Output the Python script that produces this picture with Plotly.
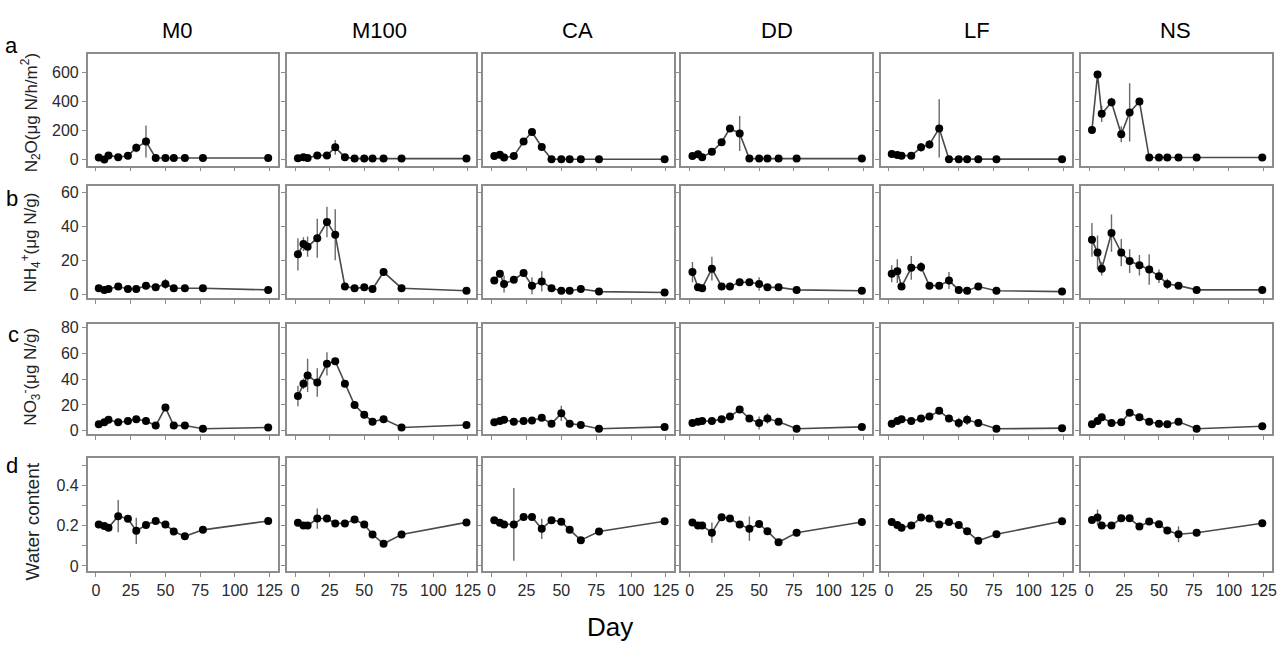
import plotly.graph_objects as go

# Sampling days (days after start)
days = [2, 6, 9, 16, 23, 29, 36, 43, 50, 56, 64, 77, 124]
treatments = ["M0", "M100", "CA", "DD", "LF", "NS"]

# N2O flux (µg N/h/m2): means and error half-widths
n2o_M0 = [15, 2, 30, 18, 28, 82, 125, 12, 12, 12, 12, 12, 12]
n2o_M0_err = [8, 5, 10, 5, 8, 30, 110, 4, 4, 4, 4, 4, 4]
n2o_M100 = [10, 18, 12, 30, 30, 85, 18, 8, 8, 8, 8, 8, 8]
n2o_M100_err = [5, 8, 5, 8, 8, 50, 6, 3, 3, 3, 3, 3, 3]
n2o_CA = [25, 35, 15, 25, 125, 190, 88, 3, 3, 3, 3, 3, 3]
n2o_CA_err = [8, 10, 6, 6, 20, 20, 15, 2, 2, 2, 2, 2, 2]
n2o_DD = [25, 38, 18, 55, 120, 215, 180, 8, 8, 8, 8, 8, 8]
n2o_DD_err = [8, 10, 6, 10, 15, 15, 120, 3, 3, 3, 3, 3, 3]
n2o_LF = [40, 32, 28, 28, 85, 105, 215, 4, 4, 4, 4, 4, 4]
n2o_LF_err = [8, 6, 6, 6, 30, 30, 200, 2, 2, 2, 2, 2, 2]
n2o_NS = [205, 585, 315, 395, 175, 325, 400, 15, 15, 15, 15, 15, 15]
n2o_NS_err = [15, 20, 55, 30, 55, 200, 15, 3, 3, 3, 3, 3, 3]

# NH4+ (µg N/g)
nh4_M0 = [3.5, 2.5, 3, 4.5, 3, 3, 5, 4, 6, 3.5, 3.5, 3.5, 2.5]
nh4_M0_err = [1, 1, 1, 1, 1, 1, 1, 1, 3, 1, 1, 1, 1]
nh4_M100 = [23.5, 29.5, 28, 33, 42.5, 35, 4.5, 3.5, 4, 3, 13, 3.5, 2]
nh4_M100_err = [9.5, 4, 6, 11.5, 9, 15, 1, 1, 1, 1, 1.5, 1, 0.5]
nh4_CA = [8, 12, 6, 8.5, 12.5, 5, 7.5, 3.5, 2, 2, 3, 1.5, 1]
nh4_CA_err = [2, 2, 5, 1.5, 1.5, 5, 6, 1, 1, 1, 1, 0.5, 0.5]
nh4_DD = [13, 4, 3.5, 15, 4.5, 4.5, 7, 7, 6, 4, 4, 2.5, 2]
nh4_DD_err = [6, 1.5, 1.5, 7, 2, 2, 2, 2, 4, 1, 1, 1, 1]
nh4_LF = [12, 13.5, 4.5, 15.5, 16, 5, 5, 8, 2.5, 2, 4.5, 2, 1.5]
nh4_LF_err = [5, 7, 1, 7, 3, 1, 1, 5, 1, 1, 1, 1, 0.5]
nh4_NS = [32, 24.5, 15, 36, 24.5, 19.5, 17, 14.5, 10.5, 6, 5, 2.5, 2.5]
nh4_NS_err = [10, 10, 4, 11, 8, 7, 6, 9, 4, 3, 1.5, 1, 1]

# NO3- (µg N/g)
no3_M0 = [5, 6.5, 8.5, 6.5, 7.5, 9, 7.5, 4, 18, 4, 4, 1.5, 2.5]
no3_M0_err = [1.5, 1.5, 2, 1, 1.5, 2, 2, 1, 2, 1, 1, 1, 1]
no3_M100 = [27, 36.5, 43, 37.5, 52, 54, 36.5, 20, 12.5, 7, 9, 2.5, 4.5]
no3_M100_err = [8, 4, 13, 11, 9, 2, 2, 2, 2, 2, 2, 1, 1]
no3_CA = [6.5, 7.5, 8.5, 7, 7.5, 8, 10, 5.5, 13.5, 5.5, 4.5, 1.5, 3]
no3_CA_err = [2, 2, 2, 1, 1, 1, 2, 2, 6, 1, 2, 1, 1]
no3_DD = [6, 7, 7.5, 7.5, 9, 11, 16.5, 9.5, 6, 9.5, 7, 1.5, 3]
no3_DD_err = [1.5, 1.5, 1.5, 1, 1, 1.5, 2, 2, 5, 4, 1, 1, 1]
no3_LF = [5.5, 7.5, 9, 7.5, 9.5, 11, 15.5, 9.5, 6, 8.5, 6, 1.5, 2]
no3_LF_err = [1.5, 1.5, 1.5, 1, 1, 1, 2, 2, 4, 4, 1, 1, 1]
no3_NS = [5, 7.5, 10.5, 6, 6.5, 14, 10.5, 7, 5.5, 5, 7, 1.5, 3.5]
no3_NS_err = [1.5, 1.5, 2, 1, 1, 2, 1.5, 1, 1, 1.5, 1, 1, 1]

# Soil water content (g/g)
wc_M0 = [0.206, 0.198, 0.19, 0.247, 0.234, 0.174, 0.203, 0.223, 0.206, 0.171, 0.147, 0.179, 0.223]
wc_M0_err = [0.008, 0.008, 0.008, 0.08, 0.008, 0.065, 0.008, 0.008, 0.008, 0.008, 0.008, 0.008, 0.008]
wc_M100 = [0.214, 0.2, 0.2, 0.235, 0.235, 0.211, 0.211, 0.23, 0.206, 0.156, 0.11, 0.156, 0.216]
wc_M100_err = [0.008, 0.008, 0.008, 0.05, 0.008, 0.008, 0.008, 0.008, 0.008, 0.008, 0.008, 0.008, 0.008]
wc_CA = [0.227, 0.214, 0.206, 0.206, 0.243, 0.243, 0.184, 0.227, 0.219, 0.179, 0.128, 0.171, 0.222]
wc_CA_err = [0.008, 0.008, 0.008, 0.18, 0.008, 0.008, 0.05, 0.008, 0.008, 0.008, 0.008, 0.008, 0.008]
wc_DD = [0.215, 0.2, 0.2, 0.165, 0.242, 0.235, 0.205, 0.185, 0.208, 0.172, 0.118, 0.165, 0.218]
wc_DD_err = [0.008, 0.008, 0.008, 0.05, 0.008, 0.008, 0.008, 0.06, 0.008, 0.008, 0.008, 0.008, 0.008]
wc_LF = [0.218, 0.203, 0.19, 0.2, 0.24, 0.235, 0.206, 0.218, 0.203, 0.172, 0.125, 0.157, 0.222]
wc_LF_err = [0.008] * 13
wc_NS = [0.228, 0.24, 0.2, 0.2, 0.236, 0.236, 0.196, 0.22, 0.207, 0.176, 0.157, 0.165, 0.212]
wc_NS_err = [0.008, 0.04, 0.008, 0.008, 0.008, 0.008, 0.008, 0.008, 0.008, 0.008, 0.04, 0.008, 0.008]

rows = [
    [(n2o_M0, n2o_M0_err), (n2o_M100, n2o_M100_err), (n2o_CA, n2o_CA_err),
     (n2o_DD, n2o_DD_err), (n2o_LF, n2o_LF_err), (n2o_NS, n2o_NS_err)],
    [(nh4_M0, nh4_M0_err), (nh4_M100, nh4_M100_err), (nh4_CA, nh4_CA_err),
     (nh4_DD, nh4_DD_err), (nh4_LF, nh4_LF_err), (nh4_NS, nh4_NS_err)],
    [(no3_M0, no3_M0_err), (no3_M100, no3_M100_err), (no3_CA, no3_CA_err),
     (no3_DD, no3_DD_err), (no3_LF, no3_LF_err), (no3_NS, no3_NS_err)],
    [(wc_M0, wc_M0_err), (wc_M100, wc_M100_err), (wc_CA, wc_CA_err),
     (wc_DD, wc_DD_err), (wc_LF, wc_LF_err), (wc_NS, wc_NS_err)],
]

W, H = 1287, 649
col_px = [(88, 279), (288, 478), (485, 677), (684, 875), (884, 1076), (1085, 1277)]
row_px = [(51, 164), (185, 298), (324, 436), (460, 575)]
y_ranges = [[-41, 724], [-2.2, 63.5], [-2.5, 83.3], [-0.025, 0.537]]
y_major = [[0, 200, 400, 600], [0, 20, 40, 60], [0, 20, 40, 60, 80], [0, 0.2, 0.4]]
y_minor = [[], [], [], [0.1, 0.3, 0.5]]
x_range = [-6, 131]
x_ticks = [0, 25, 50, 75, 100, 125]

tick_font = dict(family="Liberation Sans Narrow, Liberation Sans, Arial", size=16, color="#2a2a2a")
frame_color = "#8c8c8c"

fig = go.Figure()
layout = {}
k = 0
for r in range(4):
    for c in range(6):
        k += 1
        vals, errs = rows[r][c]
        xa = "x" if k == 1 else f"x{k}"
        ya = "y" if k == 1 else f"y{k}"
        fig.add_trace(go.Scatter(
            x=days, y=vals, xaxis=xa, yaxis=ya, mode="lines+markers",
            line=dict(color="#4a4a4a", width=1.6),
            marker=dict(color="black", size=8),
            error_y=dict(type="data", array=errs, visible=True, color="#6a6a6a",
                         thickness=1.4, width=0),
            showlegend=False, hoverinfo="skip",
        ))
        x0, x1 = col_px[c]
        t, b = row_px[r]
        xname = "xaxis" if k == 1 else f"xaxis{k}"
        yname = "yaxis" if k == 1 else f"yaxis{k}"
        layout[xname] = dict(
            domain=[x0 / W, x1 / W], anchor=ya,
            range=x_range, tickmode="array", tickvals=x_ticks,
            showticklabels=(r == 3),
            showgrid=False, zeroline=False, showline=True, mirror=True,
            linecolor=frame_color, linewidth=1.5, ticks="outside", ticklen=4,
            tickcolor=frame_color, tickfont=tick_font,
        )
        yax = dict(
            domain=[1 - b / H, 1 - t / H], anchor=xa, range=y_ranges[r],
            tickmode="array", tickvals=y_major[r], showticklabels=(c == 0),
            showgrid=False, zeroline=False, showline=True, mirror=True,
            linecolor=frame_color, linewidth=1.5, ticks="outside", ticklen=4,
            tickcolor=frame_color, tickfont=tick_font,
        )
        if y_minor[r]:
            yax["minor"] = dict(tickmode="array", tickvals=y_minor[r], ticks="outside",
                                ticklen=4, tickcolor=frame_color, showgrid=False)
        layout[yname] = yax

fig.update_layout(**layout)

annotations = []
title_x = [178, 381, 580, 780, 981, 1180]
for name, xc in zip(treatments, title_x):
    annotations.append(dict(x=xc / W, y=1 - 27 / H, xref="paper", yref="paper", text=name,
                            showarrow=False, font=dict(family="Liberation Sans, Arial", size=22, color="black"),
                            xanchor="center", yanchor="middle"))

letters = [("a", 12, 42), ("b", 12, 197), ("c", 14, 335), ("d", 12, 468)]
for txt, xp, yp in letters:
    annotations.append(dict(x=xp / W, y=1 - yp / H, xref="paper", yref="paper", text=txt,
                            showarrow=False, font=dict(family="Liberation Sans, Arial", size=22, color="black"),
                            xanchor="center", yanchor="middle"))

ylabels = [
    ("N<sub>2</sub>O(μg N/h/m<sup>2</sup>)", 31, 110, 17),
    ("NH<sub>4</sub><sup>+</sup>(μg N/g)", 31, 242, 17),
    ("NO<sub>3</sub><sup>-</sup>(μg N/g)", 31, 378, 17),
    ("Water content", 33, 525, 19),
]
for txt, xp, yp, fs in ylabels:
    annotations.append(dict(x=xp / W, y=1 - yp / H, xref="paper", yref="paper", text=txt,
                            showarrow=False, textangle=-90,
                            font=dict(family="Liberation Sans, Arial", size=fs, color="#222222"),
                            xanchor="center", yanchor="middle"))

annotations.append(dict(x=612 / W, y=1 - 632 / H, xref="paper", yref="paper", text="Day",
                        showarrow=False, font=dict(family="Liberation Sans, Arial", size=26, color="black"),
                        xanchor="center", yanchor="middle"))

fig.update_layout(
    width=W, height=H, margin=dict(l=0, r=0, t=0, b=0),
    paper_bgcolor="white", plot_bgcolor="white",
    annotations=annotations,
)

fig.write_html("out.html")
